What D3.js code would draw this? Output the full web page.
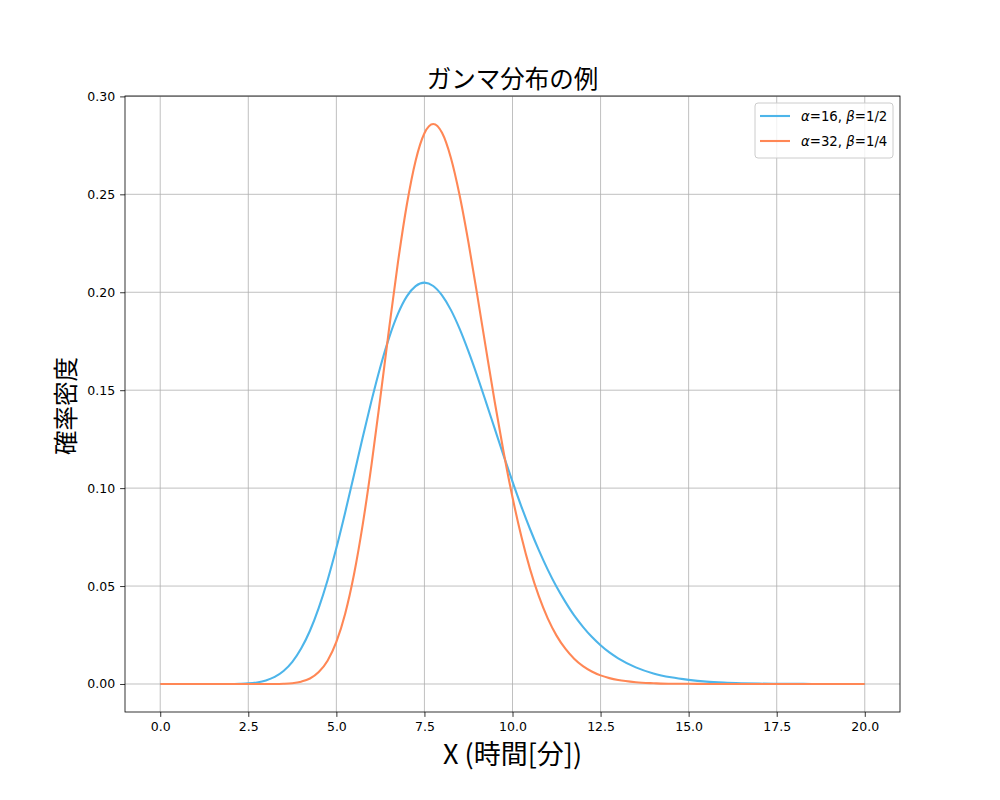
<!DOCTYPE html>
<html><head><meta charset="utf-8">
<script src="https://cdn.jsdelivr.net/npm/d3@7"></script>
<style>
html,body{margin:0;padding:0;background:#fff;}
</style></head>
<body>
<svg id="chart" width="1000" height="800"></svg>
<script>
const xValues = [0,0.5,1,1.5,2,2.25,2.5,2.75,3,3.25,3.5,3.75,4,4.25,4.5,4.75,5,5.25,5.5,5.75,6,6.25,6.5,6.75,7,7.25,7.5,7.75,8,8.25,8.5,8.75,9,9.25,9.5,9.75,10,10.25,10.5,10.75,11,11.25,11.5,11.75,12,12.25,12.5,12.75,13,13.5,14,14.5,15,15.5,16,16.5,17,17.5,18,18.5,19,19.5,20];
const series1 = [0,0,0,0,0.0000,0.0001,0.0003,0.0008,0.0018,0.0036,0.0066,0.0113,0.0181,0.0272,0.0389,0.0530,0.0694,0.0876,0.1067,0.1261,0.1448,0.1620,0.1770,0.1891,0.1979,0.2031,0.2049,0.2032,0.1984,0.1910,0.1813,0.1698,0.1572,0.1438,0.1301,0.1165,0.1033,0.0907,0.0790,0.0682,0.0584,0.0496,0.0419,0.0350,0.0292,0.0241,0.0198,0.0161,0.0131,0.0085,0.0054,0.0034,0.0021,0.0012,0.0007,0.0004,0.0002,0.0001,0.0001,0,0,0,0];
const series2 = [0,0,0,0,0,0,0,0,0,0,0.0001,0.0004,0.0012,0.0028,0.0061,0.0119,0.0215,0.0359,0.0559,0.0816,0.1123,0.1465,0.1818,0.2155,0.2447,0.2672,0.2812,0.2859,0.2814,0.2687,0.2494,0.2254,0.1985,0.1708,0.1436,0.1182,0.0953,0.0754,0.0585,0.0447,0.0335,0.0247,0.0180,0.0129,0.0091,0.0064,0.0044,0.0030,0.0020,0.0009,0.0004,0.0001,0.0001,0,0,0,0,0,0,0,0,0,0];
const seriesNames = ["α=16, β=1/2", "α=32, β=1/4"];
const xTicks = [0,2.5,5,7.5,10,12.5,15,17.5,20];
const yTicks = [0,0.05,0.10,0.15,0.20,0.25,0.30];
const titleText = "ガンマ分布の例";
const xLabelText = "X (時間[分])";
const yLabelText = "確率密度";

const CJK = '"Noto Sans CJK JP","Noto Sans",sans-serif';
const LAT = '"DejaVu Sans",sans-serif';
const colors = ["#4db5ea", "#ff8755"];
const svg = d3.select("#chart");
const L = 125, R = 900, T = 96, B = 712;
const x = d3.scaleLinear().domain([-1, 21]).range([L, R]);
const y = d3.scaleLinear().domain([-0.0143, 0.3002]).range([B, T]);

// grid
const g = svg.append("g");
g.selectAll(".vg").data(xTicks).join("line")
  .attr("x1", d => x(d)).attr("x2", d => x(d)).attr("y1", T).attr("y2", B)
  .attr("stroke", "#b0b0b0").attr("stroke-width", 0.8);
g.selectAll(".hg").data(yTicks).join("line")
  .attr("y1", d => y(d)).attr("y2", d => y(d)).attr("x1", L).attr("x2", R)
  .attr("stroke", "#b0b0b0").attr("stroke-width", 0.8);

// lines
const data = [series1, series2];
const line = d3.line().x((d, i) => x(xValues[i])).y(d => y(d)).curve(d3.curveMonotoneX);
data.forEach((s, k) => {
  svg.append("path").datum(s).attr("d", line).attr("fill", "none")
    .attr("stroke", colors[k]).attr("stroke-width", 2.1).attr("stroke-linejoin", "round");
});

// axes
const xAxis = d3.axisBottom(x).tickValues(xTicks).tickFormat(d3.format(".1f")).tickSizeOuter(0).tickSize(4.9).tickPadding(5);
const yAxis = d3.axisLeft(y).tickValues(yTicks).tickFormat(d3.format(".2f")).tickSizeOuter(0).tickSize(4.9).tickPadding(5);
const gx = svg.append("g").attr("transform", `translate(0,${B})`).call(xAxis);
const gy = svg.append("g").attr("transform", `translate(${L},0)`).call(yAxis);
[gx, gy].forEach(a => {
  a.select(".domain").remove();
  a.attr("font-family", LAT).attr("font-size", 12.5);
  a.selectAll("line").attr("stroke", "#000").attr("stroke-width", 0.8);
  a.selectAll("text").attr("fill", "#000");
});
svg.append("rect").attr("x", L).attr("y", T).attr("width", R - L).attr("height", B - T)
  .attr("fill", "none").attr("stroke", "#000").attr("stroke-width", 0.8);

// titles
svg.append("text").attr("x", (L + R) / 2).attr("y", 88).attr("text-anchor", "middle")
  .attr("font-family", CJK).attr("font-size", 24.5).text(titleText);
svg.append("text").attr("x", (L + R) / 2).attr("y", 764).attr("text-anchor", "middle")
  .attr("font-family", CJK).attr("font-size", 27).text(xLabelText);
svg.append("text").attr("transform", `translate(75,${406}) rotate(-90)`)
  .attr("text-anchor", "middle").attr("font-family", CJK).attr("font-size", 24.5).text(yLabelText);

// legend
const lg = svg.append("g");
lg.append("rect").attr("x", 755).attr("y", 103).attr("width", 138).attr("height", 55)
  .attr("rx", 3).attr("fill", "#fff").attr("fill-opacity", 0.8)
  .attr("stroke", "#cccccc").attr("stroke-width", 1);
seriesNames.forEach((name, k) => {
  const yy = 116 + k * 25;
  lg.append("line").attr("x1", 760).attr("x2", 790).attr("y1", yy).attr("y2", yy)
    .attr("stroke", colors[k]).attr("stroke-width", 2.1);
  const parts = name.split(/([αβ])/);
  const t = lg.append("text").attr("x", 801).attr("y", yy + 4.5)
    .attr("font-family", LAT).attr("font-size", 13.3);
  parts.forEach(p => {
    if (!p) return;
    const ts = t.append("tspan").text(p);
    if (p === "α" || p === "β") ts.attr("font-style", "italic");
  });
});
</script>
</body></html>
